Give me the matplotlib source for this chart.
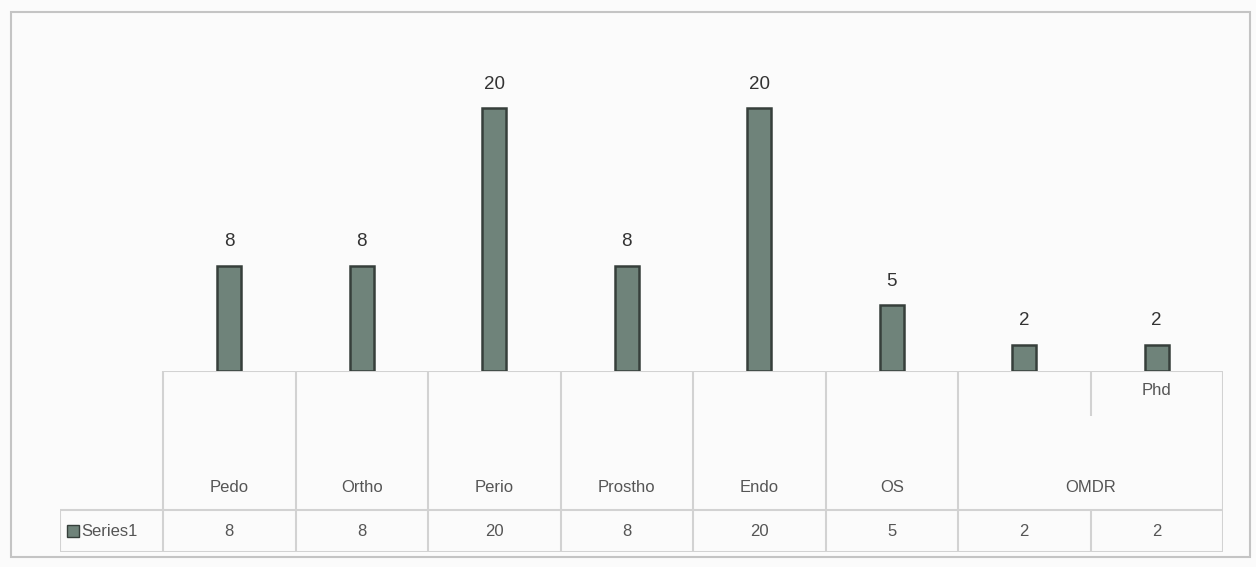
import matplotlib

matplotlib.use("Agg")
import matplotlib.pyplot as plt
from matplotlib.patches import Rectangle

# Данные графика (читаются с картинки)
group_labels = ["Pedo", "Ortho", "Perio", "Prostho", "Endo", "OS", "OMDR"]
group_sizes = [1, 1, 1, 1, 1, 1, 2]
sub_labels = ["", "", "", "", "", "", "", "Phd"]
values = [8, 8, 20, 8, 20, 5, 2, 2]
series_name = "Series1"

BAR_FILL = "#6f837a"
BAR_EDGE = "#363f3b"
GRID = "#d2d2d2"
TEXT = "#555555"

plt.rcParams["font.family"] = ["Liberation Sans", "DejaVu Sans"]

W, H = 1256, 567
fig = plt.figure(figsize=(W / 100, H / 100), dpi=100)
fig.patch.set_facecolor("#fbfbfb")


def px_rect(x0, y0, x1, y1):
    """Прямоугольник в пикселях (сверху вниз) -> доли фигуры."""
    return [x0 / W, 1 - y1 / H, (x1 - x0) / W, (y1 - y0) / H]


# внешняя рамка диаграммы
fig.patches.append(
    Rectangle((11 / W, 1 - 557 / H), (1250 - 11) / W, (557 - 12) / H,
              transform=fig.transFigure, fill=False, edgecolor="#c4c4c4", lw=1.5)
)

n = len(values)
x = list(range(n))

# столбцы
ax = fig.add_axes(px_rect(163, 42, 1223, 371))
ax.set_facecolor("none")
ax.bar(x, values, width=0.18, color=BAR_FILL, edgecolor=BAR_EDGE, linewidth=1.8)
for xi, v in zip(x, values):
    ax.annotate(str(v), (xi, v), xytext=(0, 11), textcoords="offset points",
                ha="center", va="bottom", fontsize=13.5, color="#333333")
ax.set_xlim(-0.5, n - 0.5)
ax.set_ylim(0, 25)
ax.axis("off")

# таблица данных с многоуровневыми подписями
left_units = (163 - 60) / 132.5
tx = fig.add_axes(px_rect(60, 371, 1223, 552))
tx.set_facecolor("none")
tx.set_xlim(-0.5 - left_units, n - 0.5)
tx.set_ylim(0, 1)
tx.axis("off")

y_mid = 0.231      # граница строки значений
y_sub = 0.753      # нижняя граница внутреннего уровня
kw = dict(color=GRID, lw=1.5, solid_capstyle="butt")
fs = 12

tx.plot([-0.5, n - 0.5], [1, 1], **kw)
tx.plot([-0.5 - left_units, n - 0.5], [y_mid, y_mid], **kw)
tx.plot([-0.5 - left_units, n - 0.5], [0, 0], **kw)
tx.plot([-0.5 - left_units] * 2, [0, y_mid], **kw)

# вертикальные линии: по границам групп на всю высоту, внутри группы - частично
group_edges = {-0.5}
pos = -0.5
for g, size in zip(group_labels, group_sizes):
    tx.text(pos + size / 2, 0.357, g, ha="center", va="center", fontsize=fs, color=TEXT)
    pos += size
    group_edges.add(pos)
for b in [i - 0.5 for i in range(n + 1)]:
    if b in group_edges:
        tx.plot([b, b], [0, 1], **kw)
    else:
        tx.plot([b, b], [y_sub, 1], **kw)
        tx.plot([b, b], [0, y_mid], **kw)

for xi, s in zip(x, sub_labels):
    if s:
        tx.text(xi, 0.89, s, ha="center", va="center", fontsize=fs, color=TEXT)
for xi, v in zip(x, values):
    tx.text(xi, 0.115, str(v), ha="center", va="center", fontsize=fs, color=TEXT)

# подпись ряда с ключом легенды
tx.plot([-0.5 - left_units + 0.1], [0.115], marker="s", markersize=8,
        color=BAR_FILL, markeredgecolor=BAR_EDGE)
tx.text(-0.5 - left_units + 0.16, 0.115, series_name, ha="left", va="center",
        fontsize=fs, color=TEXT)

fig.savefig("out.png", dpi=100, facecolor=fig.get_facecolor())
